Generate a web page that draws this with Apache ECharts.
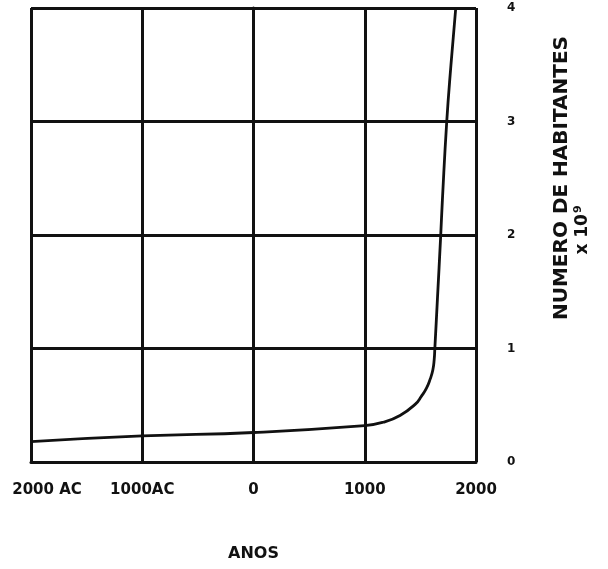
<!DOCTYPE html>
<html>
<head>
<meta charset="utf-8">
<script src="https://cdn.jsdelivr.net/npm/echarts@6/dist/echarts.min.js"></script>
<style>html,body{margin:0;padding:0;background:#fff}#c{width:608px;height:569px}</style>
</head>
<body>
<div id="c"></div>
<script>
var years = [-2000, -1000, 0, 1000, 1165, 1317, 1455, 1510, 1555, 1588, 1612, 1624, 1630, 1653, 1683, 1698, 1737, 1775, 1818];
var habitantes = [0.18, 0.23, 0.26, 0.32, 0.35, 0.41, 0.51, 0.58, 0.65, 0.73, 0.81, 0.90, 1.0, 1.43, 2.0, 2.31, 3.0, 3.5, 4.0];
var xTickValues = [-2000, -1000, 0, 1000, 2000];
var xTickLabels = ['2000 AC', '1000AC', '0', '1000', '2000'];
var yTickLabels = ['0', '1', '2', '3', '4'];
var xTitle = 'ANOS';
var yTitle = 'NUMERO DE HABITANTES';
var yUnit = 'x 10';
var yUnitExp = '9';

var chart = echarts.init(document.getElementById('c'), null, {renderer: 'canvas'});
var pts = years.map(function (y, i) { return [y, habitantes[i]]; });
var ink = '#111';
var fam = 'DejaVu Sans';
chart.setOption({
  animation: false,
  backgroundColor: '#fff',
  grid: {left: 31, right: 132, top: 8, bottom: 107, containLabel: false},
  xAxis: {
    type: 'value', min: -2000, max: 2000, interval: 1000,
    name: xTitle, nameLocation: 'middle', nameGap: 84,
    nameTextStyle: {color: ink, fontFamily: fam, fontWeight: 'bold', fontSize: 16},
    axisLine: {show: true, lineStyle: {color: ink, width: 3}},
    axisTick: {show: false},
    splitLine: {show: true, lineStyle: {color: ink, width: 3}},
    axisLabel: {
      margin: 21, color: ink, fontFamily: fam, fontWeight: 'bold', fontSize: 15,
      formatter: function (v) {
        var i = xTickValues.indexOf(v);
        var t = i >= 0 ? xTickLabels[i] : '';
        return i === 0 ? '{f|' + t + '}' : t;
      },
      rich: {f: {padding: [0, 0, 0, 32], color: ink, fontFamily: fam, fontWeight: 'bold', fontSize: 15}}
    }
  },
  yAxis: {
    type: 'value', position: 'right', min: 0, max: 4, interval: 1,
    axisLine: {show: true, lineStyle: {color: ink, width: 3}},
    axisTick: {show: false},
    splitLine: {show: true, lineStyle: {color: ink, width: 3}},
    axisLabel: {
      margin: 31, color: ink, fontFamily: fam, fontWeight: 'bold', fontSize: 12,
      formatter: function (v) { return yTickLabels[Math.round(v)]; }
    }
  },
  graphic: [
    {type: 'text', x: 562, y: 178, rotation: Math.PI / 2,
     style: {text: yTitle, fill: ink, font: 'bold 20px "DejaVu Sans"', textAlign: 'center', textVerticalAlign: 'middle'}},
    {type: 'text', x: 582, y: 230, rotation: Math.PI / 2,
     style: {text: '{b|' + yUnit + '}{s|' + yUnitExp + '}', textAlign: 'center', textVerticalAlign: 'middle',
       rich: {
         b: {fill: ink, font: 'bold 17px "DejaVu Sans"', verticalAlign: 'bottom'},
         s: {fill: ink, font: 'bold 11px "DejaVu Sans"', verticalAlign: 'top', padding: [0, 0, 8, 1]}
       }}}
  ],
  series: [{
    type: 'line', data: pts, smooth: 0.5, showSymbol: false,
    lineStyle: {color: ink, width: 2.8}
  }]
});
</script>
</body>
</html>
